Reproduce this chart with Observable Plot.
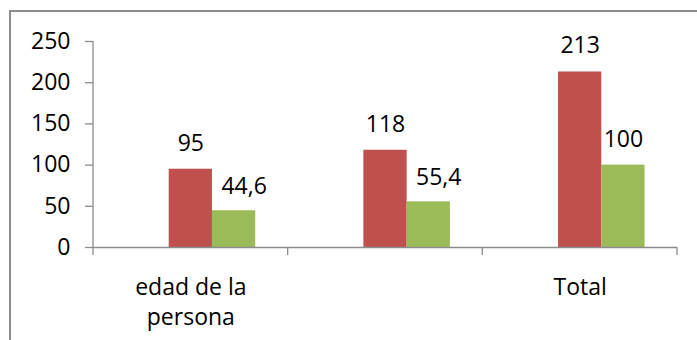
<!DOCTYPE html>
<html>
<head>
<meta charset="utf-8">
<script src="https://cdn.jsdelivr.net/npm/d3@7"></script>
<script src="https://cdn.jsdelivr.net/npm/@observablehq/plot@0.6"></script>
<style>
  html, body { margin: 0; padding: 0; background: #fff; overflow: hidden; }
  #wrap { position: relative; width: 697px; height: 340px; overflow: hidden; }
  #frame { position: absolute; left: 9px; top: 10px; width: 760px; height: 400px;
           border: 2px solid #8c8c8c; box-sizing: border-box; pointer-events: none; }
  #chart { position: absolute; left: 0; top: 0; }
</style>
</head>
<body>
<div id="wrap"><div id="chart"></div><div id="frame"></div></div>
<script>
// ---- data ----
const categories = ["edad de la persona", "(sin rótulo)", "Total"];
const categoryLabels = ["edad de la\npersona", "", "Total"];
const seriesNames = ["Serie vacía", "Casos", "Porcentaje"];
const casos = [95, 118, 213];
const porcentaje = [44.6, 55.4, 100];
const yTicks = [0, 50, 100, 150, 200, 250];
const seriesColors = ["#4F81BD", "#C0504D", "#9BBB59"];

const data = [];
categories.forEach((c, i) => {
  data.push({category: c, series: seriesNames[1], value: casos[i]});
  data.push({category: c, series: seriesNames[2], value: porcentaje[i]});
});
const fmt = v => String(v).replace(".", ",");
const labelOf = c => categoryLabels[categories.indexOf(c)];

const AXIS = "#8c8c8c";
const FONT = "Open Sans";
const FS = 23;

const plot = Plot.plot({
  width: 697,
  height: 340,
  marginLeft: 93,
  marginRight: 20,
  marginTop: 41,
  marginBottom: 93,
  style: {fontFamily: FONT, fontSize: FS + "px", color: "#000", background: "transparent"},
  fx: {domain: categories, padding: 0, round: false},
  x: {domain: seriesNames, paddingInner: 0, paddingOuter: 0.75, round: false, axis: null},
  y: {domain: [0, 250], ticks: yTicks},
  color: {domain: seriesNames, range: seriesColors},
  marks: [
    Plot.barY(data, {fx: "category", x: "series", y: "value", fill: "series"}),
    Plot.ruleY([0], {stroke: AXIS, strokeWidth: 1.3}),
    Plot.axisY(yTicks, {tickSize: 8, tickPadding: 15, stroke: AXIS, strokeWidth: 1.3,
      fontSize: FS, fill: "#000", label: null}),
    Plot.axisFx({anchor: "bottom", tickSize: 0, tickPadding: 26, fontSize: FS,
      lineHeight: 1.3, fill: "#000", label: null, tickFormat: labelOf}),
    Plot.text(data.filter(d => Number.isInteger(d.value)), {fx: "category", x: "series", y: "value",
      text: d => fmt(d.value), lineAnchor: "bottom", dy: -18.5, fontSize: FS, fill: "#000"}),
    Plot.text(data.filter(d => !Number.isInteger(d.value)), {fx: "category", x: "series", y: "value",
      text: d => fmt(d.value), lineAnchor: "bottom", dy: -17, dx: 10, fontSize: FS, fill: "#000"})
  ]
});

// y-axis domain line and category boundary ticks, placed with Plot's own scales
const fx = plot.scale("fx");
const y = plot.scale("y");
const svg = d3.select(plot.tagName.toLowerCase() === "svg" ? plot : plot.querySelector("svg"));
const g = svg.append("g").attr("stroke", AXIS).attr("stroke-width", 1.3).attr("fill", "none");
const x0 = fx.apply(categories[0]);
g.append("line").attr("x1", x0).attr("x2", x0)
  .attr("y1", y.apply(yTicks[yTicks.length - 1])).attr("y2", y.apply(0));
const edges = categories.map(c => fx.apply(c)).concat(fx.apply(categories[categories.length - 1]) + fx.bandwidth);
edges.forEach(e => g.append("line").attr("x1", e).attr("x2", e)
  .attr("y1", y.apply(0)).attr("y2", y.apply(0) + 8));

document.getElementById("chart").appendChild(plot);
</script>
</body>
</html>
